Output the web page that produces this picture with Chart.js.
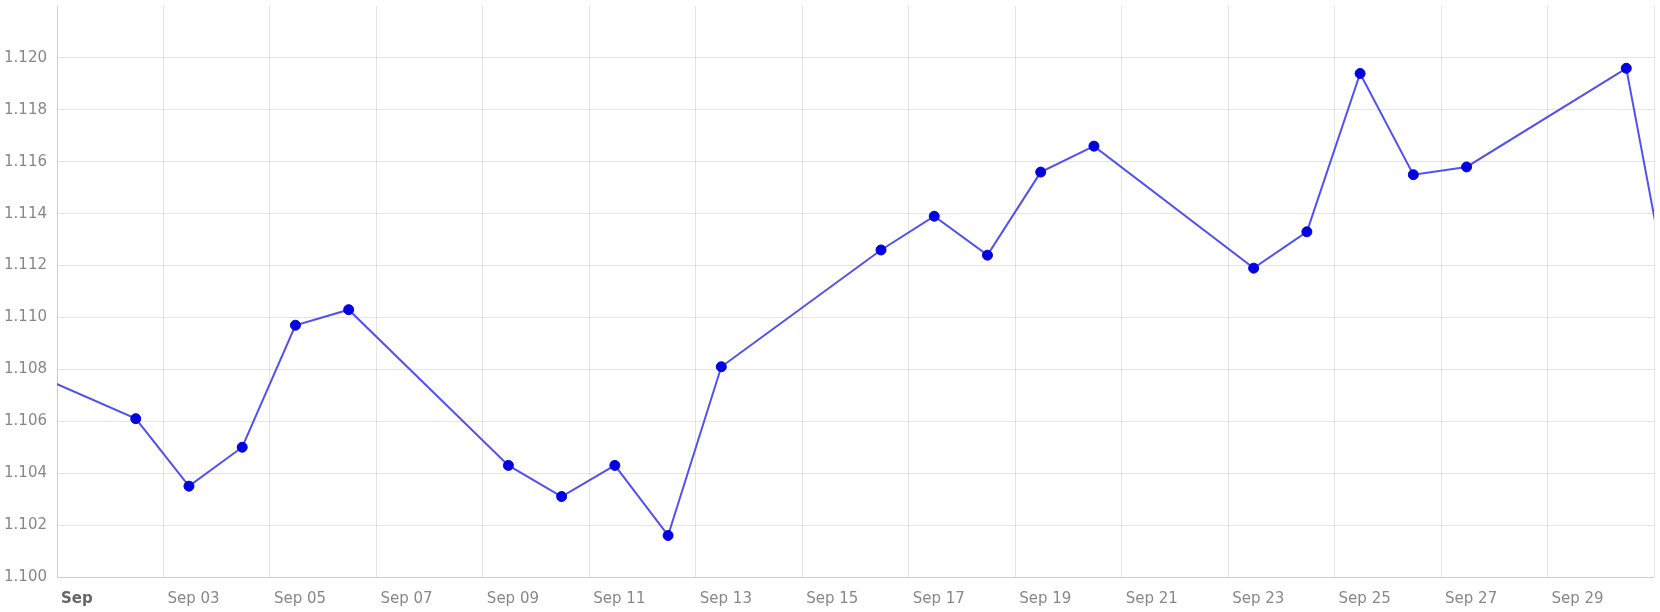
<!DOCTYPE html>
<html>
<head>
<meta charset="utf-8">
<script src="https://cdn.jsdelivr.net/npm/chart.js@4/dist/chart.umd.min.js"></script>
<style>
  html, body { margin: 0; padding: 0; background: #fff; }
  #wrap { width: 1660px; height: 612px; position: relative; }
</style>
</head>
<body>
<div id="wrap"><canvas id="c"></canvas></div>
<script>
// Trading days (2019), including the neighbours just outside the visible month
const dates = [
  '2019-08-30',
  '2019-09-02','2019-09-03','2019-09-04','2019-09-05','2019-09-06',
  '2019-09-09','2019-09-10','2019-09-11','2019-09-12','2019-09-13',
  '2019-09-16','2019-09-17','2019-09-18','2019-09-19','2019-09-20',
  '2019-09-23','2019-09-24','2019-09-25','2019-09-26','2019-09-27',
  '2019-09-30',
  '2019-10-01'
];
const rates = [
  1.1088,
  1.1061, 1.1035, 1.1050, 1.1097, 1.1103,
  1.1043, 1.1031, 1.1043, 1.1016, 1.1081,
  1.1126, 1.1139, 1.1124, 1.1156, 1.1166,
  1.1119, 1.1133, 1.1194, 1.1155, 1.1158,
  1.1196,
  1.1087
];
const monthNames = ['Jan','Feb','Mar','Apr','May','Jun','Jul','Aug','Sep','Oct','Nov','Dec'];
const axisStart = Date.UTC(2019, 8, 1);   // Sep 1
const axisEnd = Date.UTC(2019, 9, 1);     // Oct 1
const yMin = 1.100, yMax = 1.122, yStep = 0.002;
const dayMs = 86400000;
const sampleTime = 11.5 / 24;             // quotes taken late morning

const points = dates.map((d, i) => ({
  x: (Date.parse(d + 'T00:00:00Z') - axisStart) / dayMs + sampleTime,
  y: rates[i]
}));
const spanDays = (axisEnd - axisStart) / dayMs;

function dayLabel(v) {
  const dt = new Date(axisStart + Math.round(v) * dayMs);
  if (dt.getUTCMonth() !== 8) return '';
  const d = dt.getUTCDate();
  if (d === 1) return monthNames[dt.getUTCMonth()];
  return monthNames[dt.getUTCMonth()] + ' ' + String(d).padStart(2, '0');
}

const FONT = 'DejaVu Sans, Verdana, sans-serif';

new Chart(document.getElementById('c'), {
  type: 'line',
  data: {
    datasets: [{
      data: points,
      borderColor: '#5050f5',
      borderWidth: 2,
      pointBackgroundColor: '#0000e0',
      pointBorderColor: '#0000e0',
      pointRadius: 5,
      pointBorderWidth: 1,
      tension: 0,
      fill: false,
      clip: 0
    }]
  },
  options: {
    responsive: true,
    maintainAspectRatio: false,
    animation: false,
    layout: { padding: { top: 5, right: 5, left: 0, bottom: 0 } },
    plugins: { legend: { display: false }, tooltip: { enabled: false } },
    scales: {
      x: {
        type: 'linear',
        min: 0,
        max: spanDays,
        afterFit: (s) => { s.height = 35; s.paddingLeft = 0; s.paddingRight = 0; },
        grid: { color: 'rgba(0,0,0,0.1)', drawTicks: false },
        border: { color: 'rgba(0,0,0,0.1)' },
        ticks: {
          stepSize: 2,
          autoSkip: false,
          maxRotation: 0,
          align: 'start',
          labelOffset: 4,
          padding: 13,
          color: (ctx) => (ctx.tick && ctx.tick.value === 0 ? '#666' : '#888'),
          font: (ctx) => ({ family: FONT, size: 15, weight: (ctx.tick && ctx.tick.value === 0) ? 'bold' : 'normal' }),
          callback: (v) => dayLabel(v)
        }
      },
      y: {
        type: 'linear',
        min: yMin,
        max: yMax,
        afterFit: (s) => { s.width = 57; s.paddingTop = 0; s.paddingBottom = 0; },
        afterBuildTicks: (s) => { s.ticks = s.ticks.filter(t => t.value < yMax - yStep / 2); },
        grid: { color: 'rgba(0,0,0,0.1)', drawTicks: false },
        border: { color: 'rgba(0,0,0,0.1)' },
        ticks: {
          stepSize: yStep,
          padding: 10,
          color: '#888',
          font: { family: FONT, size: 15 },
          callback: (v) => Number(v).toFixed(3)
        }
      }
    }
  }
});
</script>
</body>
</html>
